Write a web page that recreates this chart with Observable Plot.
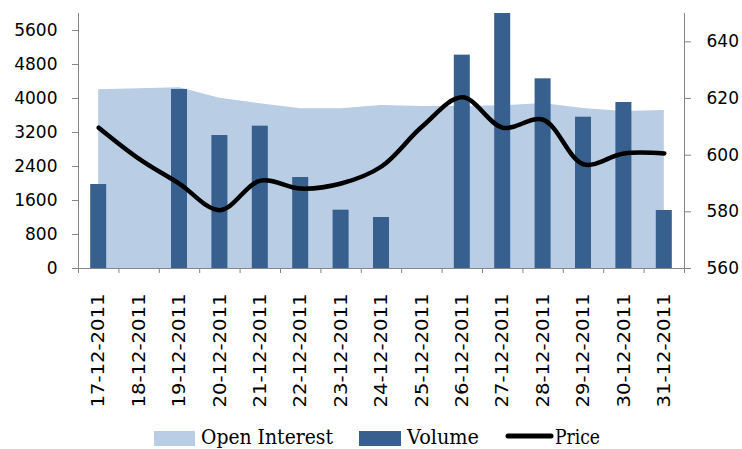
<!DOCTYPE html>
<html><head><meta charset="utf-8">
<script src="https://cdn.jsdelivr.net/npm/d3@7"></script>
<script src="https://cdn.jsdelivr.net/npm/@observablehq/plot@0.6"></script>
<style>
body{margin:0;background:#fff}
#chart{width:742px;height:449px;overflow:hidden;background:#fff}
#chart svg{display:block}
</style>
</head><body><div id="chart"></div>
<script>
const dates = ["17-12-2011","18-12-2011","19-12-2011","20-12-2011","21-12-2011","22-12-2011","23-12-2011","24-12-2011","25-12-2011","26-12-2011","27-12-2011","28-12-2011","29-12-2011","30-12-2011","31-12-2011"];
const openInterest = [4205,4228,4252,4007,3875,3757,3757,3835,3810,3812,3828,3882,3765,3694,3718];
const volume = [1976,0,4212,3129,3349,2141,1372,1200,0,5020,6000,4463,3560,3906,1365];
const price = [609.7,598.7,589.9,580.6,591.0,588.2,590.0,596.0,610.0,620.4,609.7,612.5,596.8,600.6,600.6];
const leftTicks = [0,800,1600,2400,3200,4000,4800,5600];
const rightTicks = [560,580,600,620,640];
const legendLabels = ["Open Interest","Volume","Price"];

const volMax = 6000, priceMin = 560, priceMax = 650;
const toLeft = p => (p - priceMin) / (priceMax - priceMin) * volMax;
const fromLeft = v => priceMin + v / volMax * (priceMax - priceMin);

const rows = dates.map((d, i) => ({i, date: d, oi: openInterest[i], vol: volume[i], p: toLeft(price[i])}));
const idx = d3.range(dates.length);
const bounds = d3.range(dates.length + 1).map(i => i - 0.5);
const gray = "#868686";
const areaColor = "#B9CDE5", barColor = "#37608F";

const plot = Plot.plot({
  width: 742, height: 422,
  marginLeft: 78, marginRight: 58, marginTop: 13, marginBottom: 154,
  x: {type: "linear", domain: [-0.5, dates.length - 0.5]},
  y: {domain: [0, volMax]},
  style: {fontFamily: "DejaVu Sans", fontSize: "17px", color: "#000", background: "#fff"},
  marks: [
    Plot.areaY(rows, {x: "i", y: "oi", fill: areaColor}),
    Plot.rectY(rows.filter(d => d.vol > 0), {x1: d => d.i - 0.5, x2: d => d.i + 0.5, y: "vol", fill: barColor, insetLeft: 12.2, insetRight: 12.2}),
    Plot.lineY(rows, {x: "i", y: "p", stroke: "#000", strokeWidth: 4.5, curve: "catmull-rom"}),
    Plot.ruleX([-0.5, dates.length - 0.5], {stroke: gray}),
    Plot.ruleY([0], {stroke: gray}),
    Plot.axisY({anchor: "left", ticks: leftTicks, tickSize: 6, fill: "none", stroke: gray, label: null}),
    Plot.axisY({anchor: "left", ticks: leftTicks, tickSize: 0, tickPadding: 21, tickFormat: d3.format("d"), label: null}),
    Plot.axisY({anchor: "right", ticks: rightTicks.map(toLeft), tickSize: 6, fill: "none", stroke: gray, label: null}),
    Plot.axisY({anchor: "right", ticks: rightTicks.map(toLeft), tickSize: 0, tickPadding: 22, tickFormat: v => String(Math.round(fromLeft(v))), label: null}),
    Plot.axisX({ticks: bounds, tickSize: 5, fill: "none", stroke: gray, label: null}),
    Plot.axisX({ticks: idx, tickSize: 0, tickPadding: 25, tickRotate: -90, fontSize: 18, tickFormat: i => dates[i], label: null})
  ]
});
document.getElementById("chart").appendChild(plot);

// remove any leftover empty tick texts from tick-only axes
plot.querySelectorAll('g[aria-label$="tick label"] text').forEach(t => {
  if (t.getAttribute("fill") === "none" || t.closest('g[fill="none"]')) t.remove();
});

// stretch rotated date labels like the reference
plot.querySelectorAll('g[aria-label="x-axis tick label"] text').forEach(t => {
  t.setAttribute("textLength", 114);
  t.setAttribute("lengthAdjust", "spacingAndGlyphs");
});

// legend below the chart
const lg = d3.select("#chart").append("svg").attr("width", 742).attr("height", 27)
  .style("font-family", "DejaVu Serif").style("font-size", "21px");
const items = [
  {type: "rect", color: areaColor, sx: 154, sw: 41, tx: 201, tw: 132},
  {type: "rect", color: barColor, sx: 359, sw: 42, tx: 407, tw: 72},
  {type: "line", color: "#000", sx: 506, sw: 47, tx: 555, tw: 45}
];
items.forEach((it, k) => {
  if (it.type === "rect") {
    lg.append("rect").attr("x", it.sx).attr("y", 9).attr("width", it.sw).attr("height", 15).attr("fill", it.color);
  } else {
    lg.append("line").attr("x1", it.sx + 2).attr("x2", it.sx + it.sw - 2).attr("y1", 14).attr("y2", 14)
      .attr("stroke", it.color).attr("stroke-width", 5).attr("stroke-linecap", "round");
  }
  lg.append("text").attr("x", it.tx).attr("y", 22).attr("textLength", it.tw)
    .attr("lengthAdjust", "spacingAndGlyphs").attr("fill", "#000").text(legendLabels[k]);
});
</script>
</body></html>
